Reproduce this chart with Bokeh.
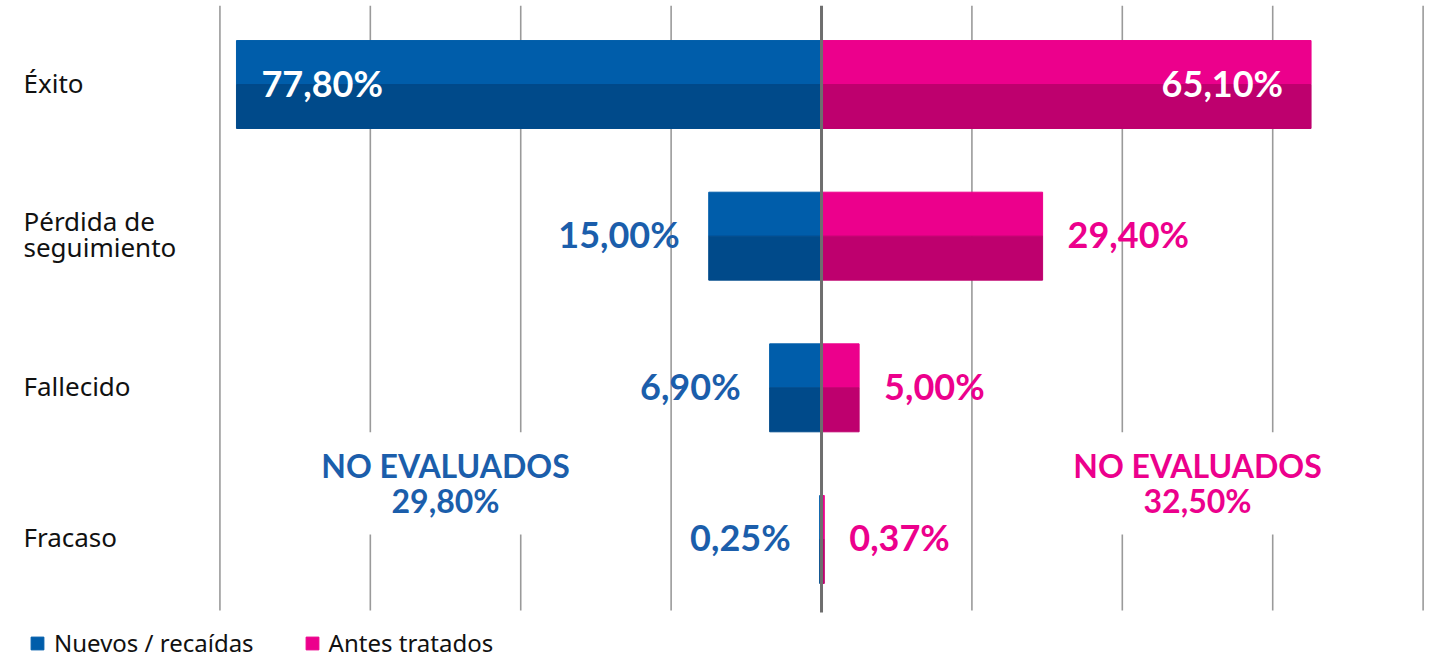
from bokeh.plotting import figure
from bokeh.models import ColumnDataSource, Legend, LegendItem, Label
from bokeh.embed import file_html
from bokeh.resources import INLINE
from bokeh.core.properties import value

# ---- data ----
categories = ["Éxito", "Pérdida de\nseguimiento", "Fallecido", "Fracaso"]
series_names = ["Nuevos / recaídas", "Antes tratados"]
nuevos = [77.8, 15.0, 6.9, 0.25]
antes = [65.1, 29.4, 5.0, 0.37]
no_evaluados = [29.8, 32.5]
grid_ticks = [-80, -60, -40, -20, 20, 40, 60, 80]

# ---- styles ----
BLUE_L, BLUE_D, BLUE_T = "#005DAA", "#004A8A", "#1B5EAB"
PINK_L, PINK_D, PINK_T = "#EC008C", "#BE006E", "#EC008C"
LFONT = "Lato"
CFONT = "Noto Sans"


def fmt(v):
    return f"{v:.2f}".replace(".", ",") + "%"


n = len(categories)
ys = [n - 1 - i for i in range(n)]
half = 0.29

p = figure(width=1429, height=660, x_range=(-109.18, 80.85), y_range=(-0.798, 3.554),
           output_backend="svg", toolbar_location=None,
           min_border=0, min_border_left=0, min_border_right=0,
           min_border_top=0, min_border_bottom=0, outline_line_color=None)
p.xaxis.visible = False
p.yaxis.visible = False
p.grid.visible = False

# grid lines
p.segment(x0=grid_ticks, x1=grid_ticks, y0=-0.468, y1=3.52,
          line_color="#9a9a9a", line_width=1.6)

src = ColumnDataSource(dict(
    y=ys,
    y_top=[y + half / 2 for y in ys],
    y_bot=[y - half / 2 for y in ys],
    neg_nuevos=[-v for v in nuevos],
    antes=antes,
    cat=categories,
    lab_n=[fmt(v) for v in nuevos],
    lab_a=[fmt(v) for v in antes],
    align_n=["left" if v > 50 else "right" for v in nuevos],
    off_n=[25 if v > 50 else -29 for v in nuevos],
    col_n=["white" if v > 50 else BLUE_T for v in nuevos],
    align_a=["right" if v > 50 else "left" for v in antes],
    off_a=[-28 if v > 50 else 25 for v in antes],
    col_a=["white" if v > 50 else PINK_T for v in antes],
))

rb = p.hbar(y="y_top", left="neg_nuevos", right=0, height=half, source=src,
            fill_color=BLUE_L, line_color=BLUE_L, line_width=1)
p.hbar(y="y_bot", left="neg_nuevos", right=0, height=half, source=src,
       fill_color=BLUE_D, line_color=BLUE_D, line_width=1)
rp = p.hbar(y="y_top", left=0, right="antes", height=half, source=src,
            fill_color=PINK_L, line_color=PINK_L, line_width=1)
p.hbar(y="y_bot", left=0, right="antes", height=half, source=src,
       fill_color=PINK_D, line_color=PINK_D, line_width=1)

# center line
p.segment(x0=[0], x1=[0], y0=-0.481, y1=3.52, line_color="#6e6e6e", line_width=3)

# value labels
p.text(x="neg_nuevos", y="y", text="lab_n", source=src, x_offset="off_n", y_offset=-2,
       text_align="align_n", text_baseline="middle", text_color="col_n",
       text_font=value(LFONT), text_font_style="bold", text_font_size="36px")
p.text(x="antes", y="y", text="lab_a", source=src, x_offset="off_a", y_offset=-2,
       text_align="align_a", text_baseline="middle", text_color="col_a",
       text_font=value(LFONT), text_font_style="bold", text_font_size="36px")

# category labels
p.text(x=-109.18, y="y", text="cat", source=src, x_offset=23, y_offset=-2,
       text_align="left", text_baseline="middle", text_color="#111111",
       text_font=value(CFONT), text_font_size="26px", text_line_height=0.74)

# not evaluated labels
for sign, v, col in zip([-1, 1], no_evaluados, [BLUE_T, PINK_T]):
    p.add_layout(Label(x=sign * 50, y=0.37, text="NO EVALUADOS\n" + fmt(v),
                       text_align="center", text_baseline="middle",
                       text_color=col, text_font=LFONT,
                       text_font_style="bold", text_font_size="32px",
                       text_line_height=0.9, background_fill_color="white",
                       padding=14))

legend = Legend(items=[LegendItem(label=series_names[0], renderers=[rb]),
                       LegendItem(label=series_names[1], renderers=[rp])],
                orientation="horizontal", location=(29, 1),
                glyph_width=16, glyph_height=16, label_standoff=9, spacing=50,
                label_height=16,
                label_text_font=CFONT, label_text_font_size="24px",
                label_text_color="#111111", padding=0, margin=0,
                border_line_color=None, background_fill_alpha=0)
p.add_layout(legend)

open("out.html", "w").write(file_html(p, INLINE))
